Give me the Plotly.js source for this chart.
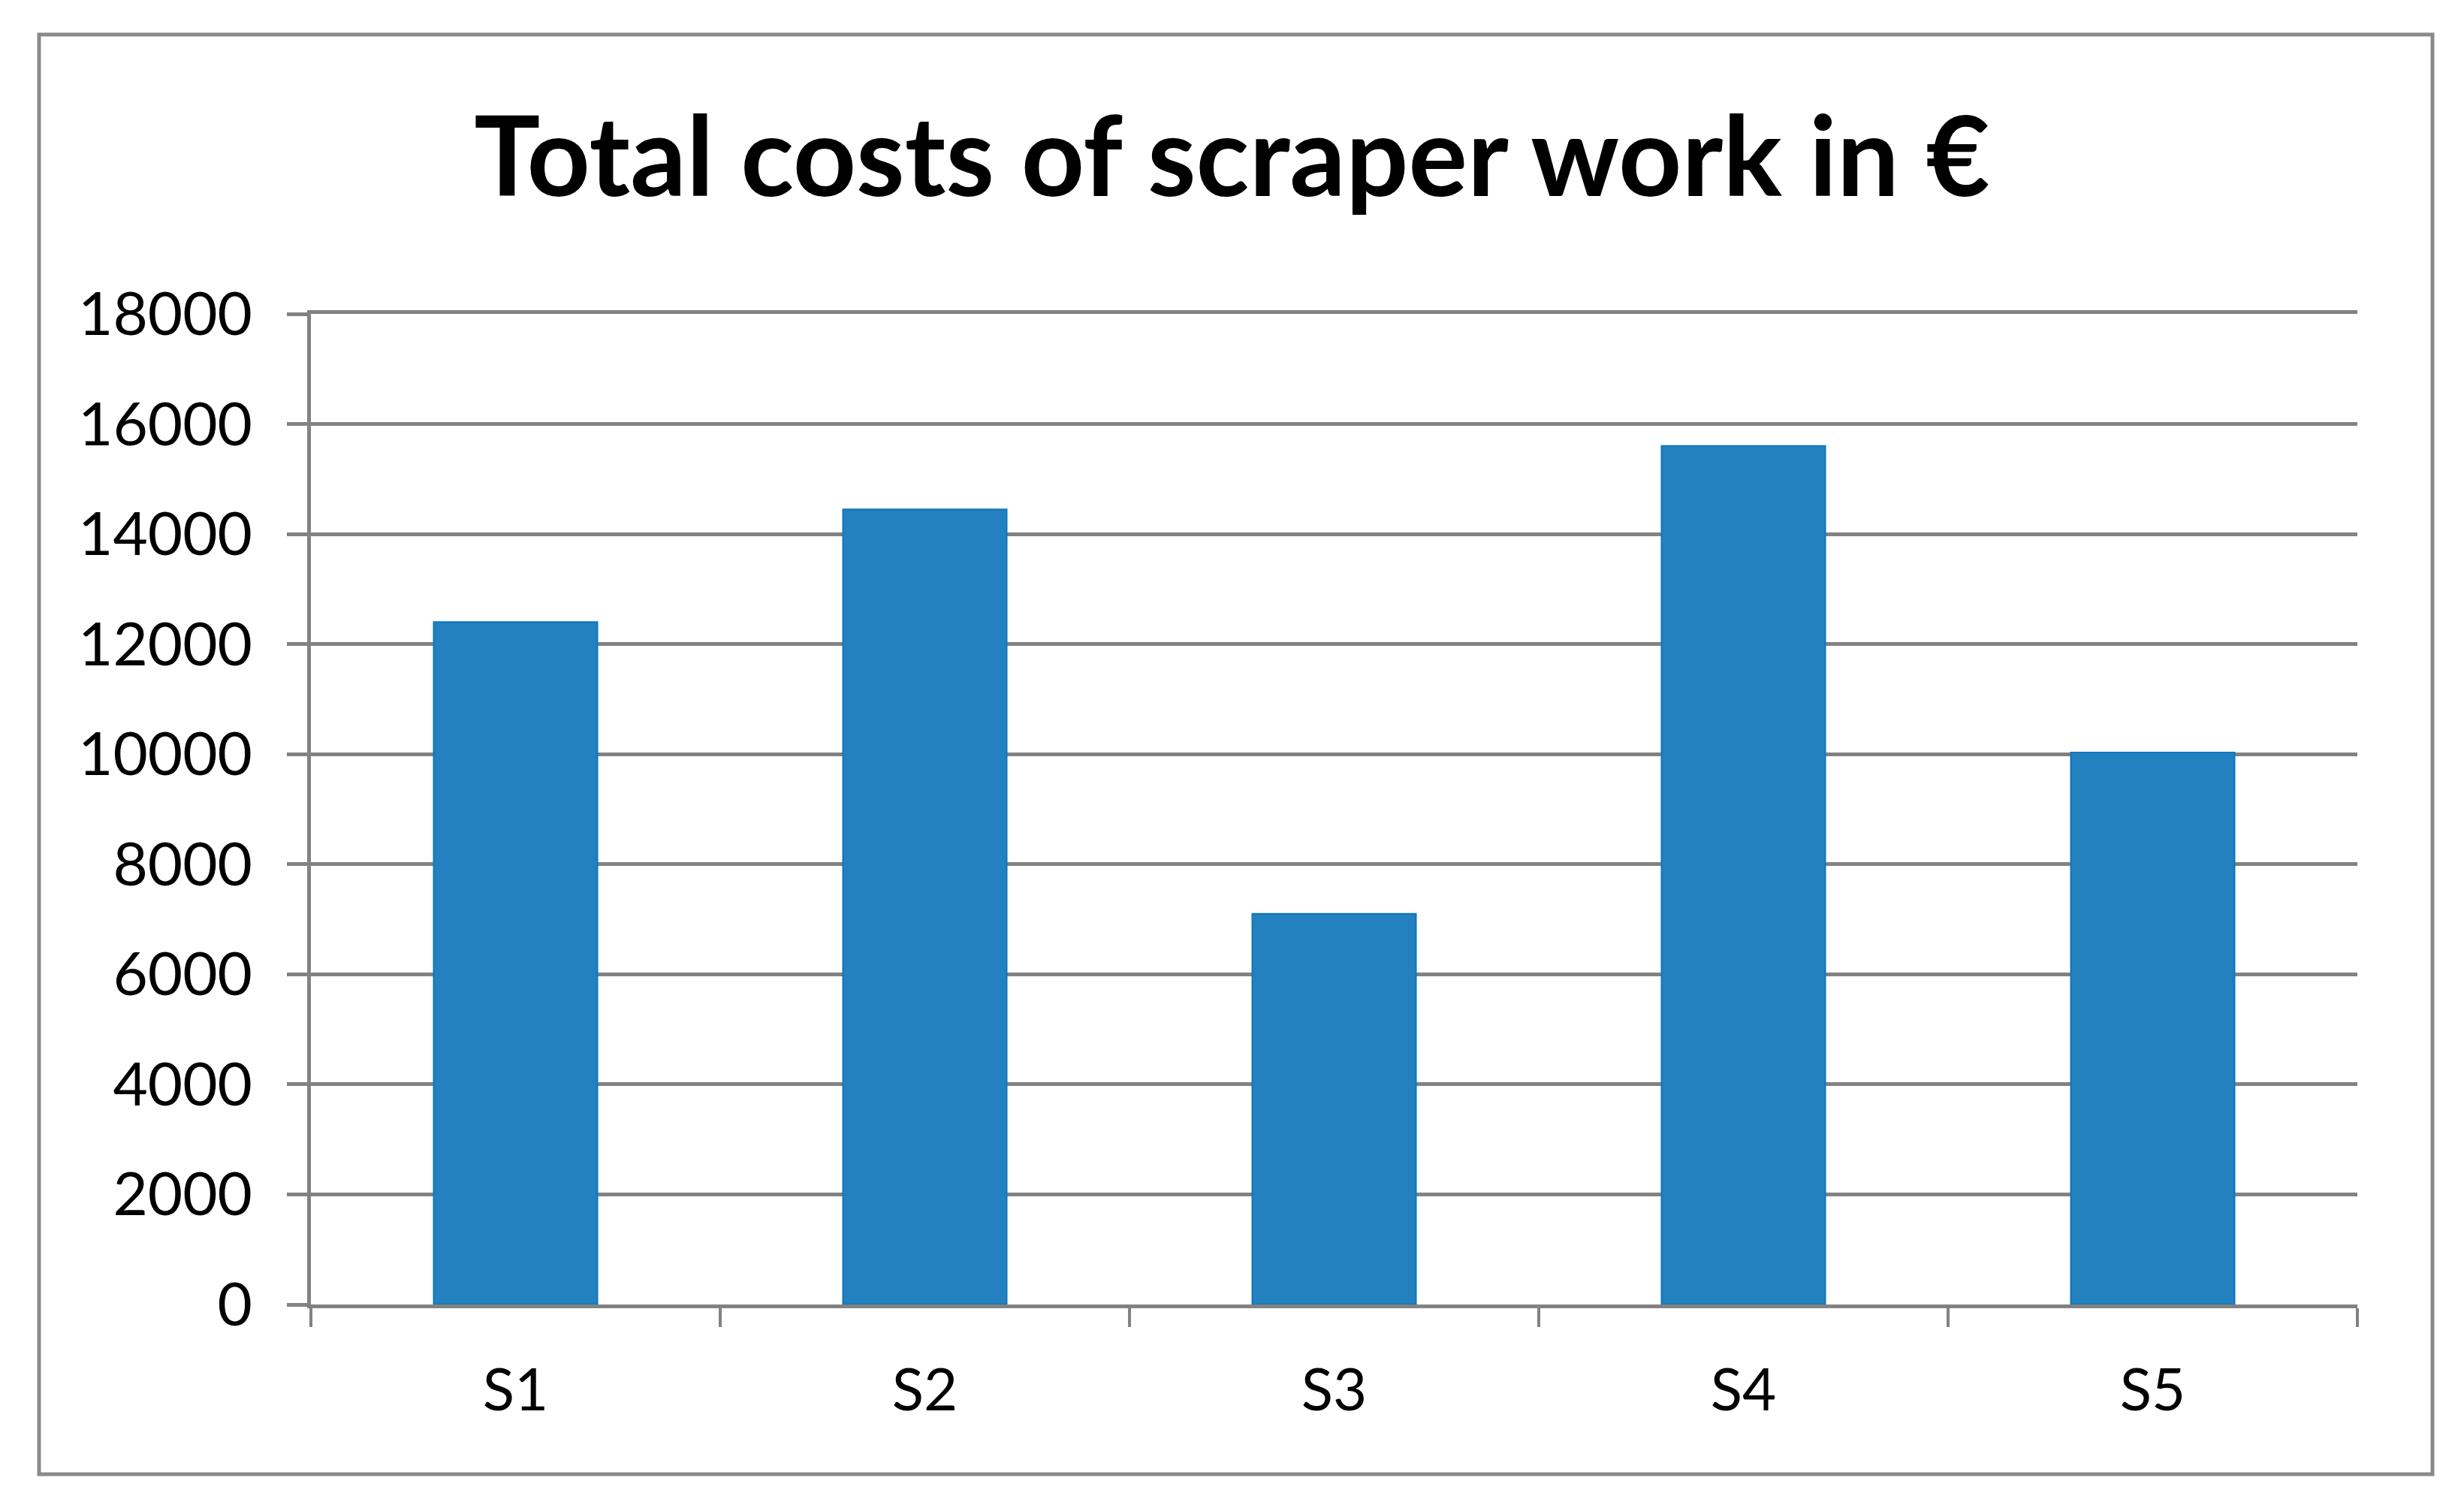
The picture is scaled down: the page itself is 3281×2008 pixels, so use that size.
<!DOCTYPE html>
<html>
<head>
<meta charset="utf-8">
<script src="https://cdn.plot.ly/plotly-3.0.1.min.js"></script>
<style>
  html, body { margin: 0; padding: 0; background: #fff; }
  #chart { width: 3281px; height: 2008px; }
</style>
</head>
<body>
<div id="chart"></div>
<script>
// values
const sites = ["S1", "S2", "S3", "S4", "S5"];
const totalCosts = [12400, 14450, 7100, 15600, 10030];
const yTicks = [0, 2000, 4000, 6000, 8000, 10000, 12000, 14000, 16000, 18000];

const W = 3281;
const H = 2008;
const margin = { l: 414, r: 142, t: 418, b: 271 };
const plotW = W - margin.l - margin.r;
const plotH = H - margin.t - margin.b;
const gray = "#828282";

// outer frame in pixels, turned into paper units
const px = x => (x - margin.l) / plotW;
const py = y => 1 - (y - margin.t) / plotH;

const bars = {
  x: sites,
  y: totalCosts,
  type: "bar",
  marker: {
    color: "#2381bf",
    line: { color: "#0f76bd", width: 2 }
  },
  hoverinfo: "x+y"
};

const layout = {
  width: W,
  height: H,
  margin: { ...margin, pad: 0 },
  paper_bgcolor: "#ffffff",
  plot_bgcolor: "#ffffff",
  showlegend: false,
  bargap: 0.6,
  font: { family: "Lato, 'Open Sans', sans-serif", color: "#000000" },
  title: {
    text: "<b>Total costs of scraper work in €</b>",
    font: { size: 147, color: "#000000" },
    x: 0.5,
    xref: "container",
    y: 1 - 210 / H,
    yref: "container",
    yanchor: "middle"
  },
  xaxis: {
    type: "category",
    showgrid: false,
    zeroline: false,
    showline: true,
    mirror: true, // top line stands in for the 18000 gridline
    linecolor: gray,
    linewidth: 5,
    ticks: "outside",
    tickson: "boundaries",
    ticklen: 25,
    tickwidth: 4,
    tickcolor: gray,
    ticklabelstandoff: 42,
    tickfont: { size: 78, color: "#000000" }
  },
  yaxis: {
    range: [0, 18000],
    tickvals: yTicks,
    ticktext: yTicks.map(String),
    showgrid: true,
    gridcolor: gray,
    gridwidth: 5,
    zeroline: false,
    showline: true,
    linecolor: gray,
    linewidth: 5,
    ticks: "outside",
    ticklen: 27,
    tickwidth: 5,
    tickcolor: gray,
    ticklabelstandoff: 30,
    tickfont: { size: 80, color: "#000000" }
  },
  shapes: [
    {
      type: "rect",
      xref: "paper",
      yref: "paper",
      x0: px(52),
      x1: px(3239),
      y0: py(1963),
      y1: py(46),
      line: { color: "#8a8a8a", width: 5 },
      fillcolor: "rgba(0,0,0,0)",
      layer: "below"
    }
  ]
};

const config = {
  displayModeBar: false,
  displaylogo: false,
  responsive: false
};

Plotly.newPlot("chart", [bars], layout, config);
</script>
</body>
</html>
